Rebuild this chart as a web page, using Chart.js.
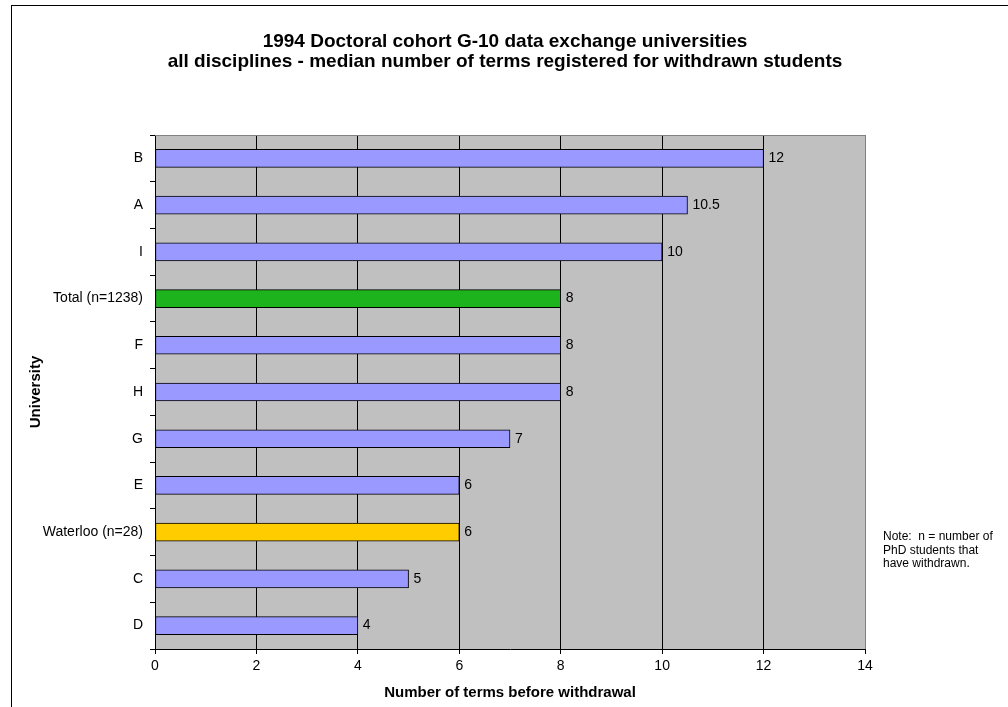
<!DOCTYPE html>
<html>
<head>
<meta charset="utf-8">
<script src="https://cdn.jsdelivr.net/npm/chart.js@4/dist/chart.umd.min.js"></script>
<style>
    html, body { margin: 0; padding: 0; background: #fff; overflow: hidden; }
    #frame { position: absolute; left: 11px; top: 5px; width: 1100px; height: 800px; border: 1px solid #000; box-sizing: border-box; }
    #chart { position: absolute; left: 0; top: 0; }
</style>
</head>
<body>
<div id="frame"></div>
<canvas id="chart" width="1008" height="707"></canvas>
<script>
// Chart data (top to bottom)
const universities = ['B', 'A', 'I', 'Total (n=1238)', 'F', 'H', 'G', 'E', 'Waterloo (n=28)', 'C', 'D'];
const medianTerms = [12, 10.5, 10, 8, 8, 8, 7, 6, 6, 5, 4];
const xTicks = [0, 2, 4, 6, 8, 10, 12, 14];

const titleLines = [
    '1994 Doctoral cohort G-10 data exchange universities',
    'all disciplines - median number of terms registered for withdrawn students'
];
const noteLines = ['Note:  n = number of', 'PhD students that', 'have withdrawn.'];

const FONT = '"Liberation Sans", Arial, sans-serif';

// Bar colours: highlight the total and Waterloo
function barColor(label) {
    if (label.startsWith('Total')) return '#1DB31D';
    if (label.startsWith('Waterloo')) return '#FFCC00';
    return '#9999FF';
}

// Grey plot background, grey top border, titles, notes, value labels
const decorPlugin = {
    id: 'decor',
    beforeDraw(chart) {
        const { ctx, chartArea: a } = chart;
        ctx.save();
        ctx.fillStyle = '#C0C0C0';
        ctx.fillRect(a.left, a.top, a.right - a.left, a.bottom - a.top);
        ctx.restore();
    },
    afterDatasetsDraw(chart) {
        const { ctx, chartArea: a } = chart;
        const meta = chart.getDatasetMeta(0);
        ctx.save();
        ctx.font = '14px ' + FONT;
        ctx.fillStyle = '#000';
        ctx.textBaseline = 'middle';
        ctx.textAlign = 'left';
        meta.data.forEach((bar, i) => {
            ctx.fillText(String(medianTerms[i]), bar.x + 5, bar.y);
        });

        // top border
        ctx.strokeStyle = '#808080';
        ctx.lineWidth = 1;
        ctx.beginPath();
        ctx.moveTo(a.left, a.top + 0.5);
        ctx.lineTo(a.right, a.top + 0.5);
        ctx.stroke();

        // title
        ctx.font = 'bold 19px ' + FONT;
        ctx.textAlign = 'center';
        ctx.fillText(titleLines[0], 505, 42);
        ctx.fillText(titleLines[1], 505, 62);

        // note
        ctx.font = '12px ' + FONT;
        ctx.textAlign = 'left';
        noteLines.forEach((line, i) => ctx.fillText(line, 883, 537 + i * 13.5));
        ctx.restore();
    }
};

const chart = new Chart(document.getElementById('chart').getContext('2d'), {
    type: 'bar',
    data: {
        labels: universities,
        datasets: [{
            data: medianTerms,
            backgroundColor: universities.map(barColor),
            borderColor: '#000',
            borderWidth: 1,
            borderSkipped: false,
            barThickness: 18
        }]
    },
    options: {
        indexAxis: 'y',
        responsive: false,
        animation: false,
        devicePixelRatio: 1,
        layout: { padding: { top: 135, right: 143, left: 0, bottom: 0 } },
        plugins: {
            legend: { display: false },
            tooltip: { enabled: false }
        },
        scales: {
            x: {
                min: 0,
                max: 14,
                afterFit: (scale) => { scale.height = 58; },
                afterBuildTicks: (scale) => { scale.ticks = xTicks.map(v => ({ value: v })); },
                grid: {
                    color: (c) => c.tick && c.tick.value === 14 ? '#808080' : '#000',
                    tickColor: '#000',
                    tickLength: 5,
                    lineWidth: 1
                },
                border: { color: '#000', width: 1 },
                ticks: {
                    color: '#000',
                    padding: 4,
                    font: { family: FONT, size: 14 }
                },
                title: {
                    display: true,
                    text: 'Number of terms before withdrawal',
                    color: '#000',
                    font: { family: FONT, size: 15, weight: 'bold' },
                    padding: { top: 0, bottom: 5 }
                }
            },
            y: {
                afterFit: (scale) => { scale.width = 155; },
                grid: {
                    offset: true,
                    drawOnChartArea: false,
                    tickColor: '#000',
                    tickLength: 5
                },
                border: { color: '#000', width: 1 },
                ticks: {
                    color: '#000',
                    padding: 7,
                    font: { family: FONT, size: 14 }
                },
                title: {
                    display: true,
                    text: 'University',
                    color: '#000',
                    font: { family: FONT, size: 15, weight: 'bold' },
                    padding: { top: 27, bottom: 0 }
                }
            }
        }
    },
    plugins: [decorPlugin]
});
</script>
</body>
</html>
